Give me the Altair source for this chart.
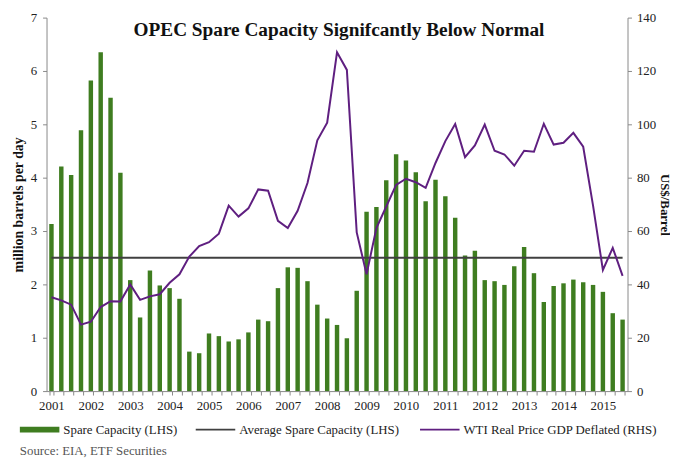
import altair as alt
import pandas as pd

years = list(range(2001, 2016))
quarters = [f"{y}Q{q}" for y in years for q in range(1, 5)][:59]

spare = [3.13, 4.21, 4.05, 4.89, 5.82, 6.35, 5.50, 4.09, 2.08, 1.38,
         2.26, 1.98, 1.93, 1.73, 0.74, 0.71, 1.08, 1.03, 0.93, 0.97,
         1.10, 1.34, 1.31, 1.93, 2.32, 2.31, 2.06, 1.62, 1.36, 1.24,
         0.99, 1.88, 3.36, 3.45, 3.95, 4.44, 4.32, 4.10, 3.56, 3.96,
         3.65, 3.25, 2.54, 2.63, 2.08, 2.06, 1.99, 2.34, 2.70, 2.21,
         1.67, 1.97, 2.02, 2.09, 2.04, 1.99, 1.86, 1.46, 1.34]

wti = [35.2, 34.0, 32.4, 24.9, 26.0, 31.5, 33.7, 33.6, 40.0, 34.2,
       35.5, 36.3, 40.6, 43.8, 50.4, 54.4, 55.8, 59.0, 69.5, 65.4,
       68.5, 75.6, 75.1, 63.8, 61.1, 67.6, 78.0, 94.0, 100.6, 127.0,
       120.4, 59.5, 43.8, 61.1, 69.2, 77.3, 79.6, 78.3, 76.2, 85.5,
       93.7, 100.1, 87.7, 92.1, 99.9, 90.1, 88.7, 84.5, 90.1, 89.7,
       100.2, 92.4, 93.1, 96.8, 91.6, 69.5, 45.4, 53.7, 43.2]

avg_spare = 2.5

series = ["Spare Capacity (LHS)", "Average Spare Capacity (LHS)",
          "WTI Real Price GDP Deflated (RHS)"]
colors = ["#3F7D20", "#404040", "#5F1F80"]

title_text = "OPEC Spare Capacity Signifcantly Below Normal"
source_text = "Source: EIA, ETF Securities"

df = pd.DataFrame({"q": quarters, "spare": spare, "wti": wti,
                   "avg": [avg_spare] * len(quarters)})

FONT = "Liberation Serif"
W, H = 588, 378

xscale = alt.Scale(paddingInner=0.55, paddingOuter=0.275)
xaxis = alt.Axis(
    title=None, labelAngle=0, labelOverlap=False,
    labelExpr="indexof(datum.value + '', 'Q1') > 0 ? slice(datum.value + '', 0, 4) : ''",
    tickBand="extent", tickSize=4, labelPadding=5, labelFontSize=13,
)
x = alt.X("q:N", sort=quarters, scale=xscale, axis=xaxis)

legend_common = dict(
    orient="none", direction="horizontal", title=None, symbolSize=1600,
    labelFont=FONT, labelFontSize=13, labelColor="#222222", labelOffset=3,
    columnPadding=17, labelLimit=0,
)
fill_legend = alt.Legend(legendX=-28, legendY=396,
                         symbolType="M-1,-0.15H1V0.15H-1Z", **legend_common)
stroke_legend = alt.Legend(legendX=150, legendY=396, symbolType="stroke",
                           symbolStrokeWidth=2, **legend_common)

fill_scale = alt.Scale(domain=series[:1], range=colors[:1])
stroke_scale = alt.Scale(domain=series[1:], range=colors[1:])

left_y = alt.Y("spare:Q", scale=alt.Scale(domain=[0, 7]),
               axis=alt.Axis(title="million barrels per day", values=list(range(8)),
                             format="d", tickSize=4, labelPadding=6, titlePadding=5,
                             titleFontSize=14, titleFontWeight="bold",
                             labelFontSize=13))

bars = alt.Chart(df).mark_bar().encode(
    x=x, y=left_y,
    fill=alt.Fill("sb:N", scale=fill_scale, legend=fill_legend),
).transform_calculate(sb=f"'{series[0]}'")

avg_line = alt.Chart(df).mark_line(strokeWidth=2).encode(
    x=x, y=alt.Y("avg:Q", scale=alt.Scale(domain=[0, 7])),
    stroke=alt.Stroke("sl:N", scale=stroke_scale, legend=stroke_legend),
).transform_calculate(sl=f"'{series[1]}'")

right_y = alt.Y("wti:Q", scale=alt.Scale(domain=[0, 140]),
                axis=alt.Axis(orient="right", title="US$/Barrel",
                              values=list(range(0, 141, 20)), format="d", tickSize=4,
                              labelPadding=5, titlePadding=2, titleFontSize=13,
                              titleFontWeight="bold", labelFontSize=13))

wti_line = alt.Chart(df).mark_line(strokeWidth=2).encode(
    x=x, y=right_y,
    stroke=alt.Stroke("sl:N", scale=stroke_scale, legend=stroke_legend),
).transform_calculate(sl=f"'{series[2]}'")

title = alt.Chart(pd.DataFrame({"t": [title_text]})).mark_text(
    font=FONT, fontSize=19.5, fontWeight="bold", align="center",
    baseline="alphabetic", color="#111111",
).encode(text="t:N", x=alt.value(296), y=alt.value(19))

source = alt.Chart(pd.DataFrame({"t": [source_text]})).mark_text(
    font=FONT, fontSize=13, align="left", baseline="alphabetic",
    color="#555555",
).encode(text="t:N", x=alt.value(-27), y=alt.value(443))

chart = alt.layer(
    alt.layer(bars, avg_line),
    wti_line,
    title,
    source,
).resolve_scale(y="independent").properties(
    width=W, height=H,
    autosize=alt.AutoSizeParams(type="none"),
    padding={"left": 39, "top": 7, "right": 43, "bottom": 66},
).configure_axis(
    grid=False, domainColor="#888888", tickColor="#888888",
    labelFont=FONT, titleFont=FONT, labelColor="#222222", titleColor="#111111",
).configure_view(stroke=None)

chart.save("out.html", embed_options={"renderer": "svg", "actions": False})
